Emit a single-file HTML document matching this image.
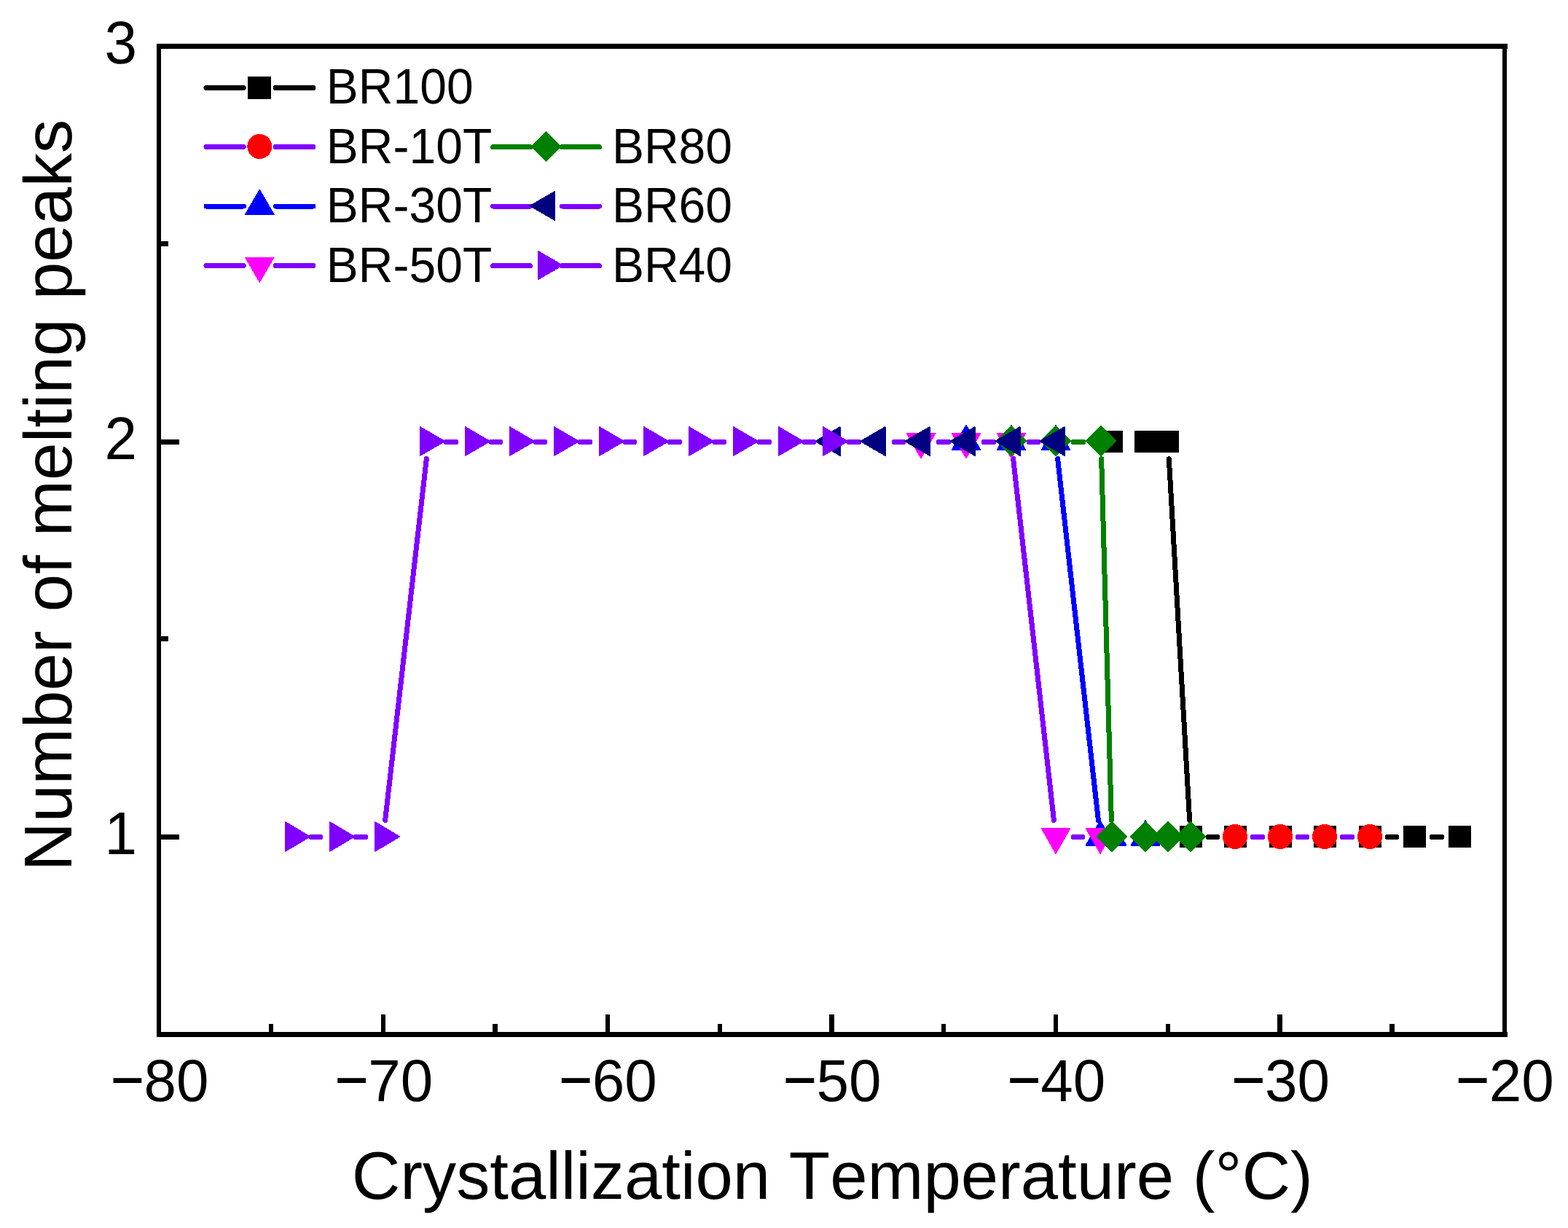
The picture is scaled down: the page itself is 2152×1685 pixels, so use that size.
<!DOCTYPE html>
<html lang="en"><head><meta charset="utf-8"><title>Number of melting peaks</title>
<style>
html,body{margin:0;padding:0;background:#fff;}
body{width:2152px;height:1685px;overflow:hidden;}
svg{display:block;}
text{font-family:"Liberation Sans",sans-serif;fill:#000;font-kerning:none;font-variant-ligatures:none;text-rendering:geometricPrecision;white-space:pre;}
.tick{font-size:80px;}
.mn{font-size:77.5px;stroke:#000;stroke-width:1.1px;}
.title{font-size:93px;}
.leg{font-size:66px;}
.ln{fill:none;stroke-width:7;stroke-linecap:round;}
</style></head><body>
<svg width="2152" height="1685" viewBox="0 0 2152 1685">
<rect x="0" y="0" width="2152" height="1685" fill="#fff"/>
<g shape-rendering="crispEdges">
<g>
<path class="ln" stroke="#000000" d="M1604.32 629.66L1632.68 1125.34M1658.3 1148.5L1670.7 1148.5M1719.3 1148.5L1732.7 1148.5M1781.3 1148.5L1793.7 1148.5M1842.3 1148.5L1855.7 1148.5M1904.3 1148.5L1916.7 1148.5M1965.3 1148.5L1978.7 1148.5"/>
<rect x="1510" y="591" width="31" height="30" fill="#000000"/>
<rect x="1557" y="591" width="31" height="30" fill="#000000"/>
<rect x="1587" y="591" width="31" height="30" fill="#000000"/>
<rect x="1619" y="1133" width="31" height="30" fill="#000000"/>
<rect x="1680" y="1133" width="31" height="30" fill="#000000"/>
<rect x="1742" y="1133" width="31" height="30" fill="#000000"/>
<rect x="1803" y="1133" width="31" height="30" fill="#000000"/>
<rect x="1865" y="1133" width="31" height="30" fill="#000000"/>
<rect x="1926" y="1133" width="31" height="30" fill="#000000"/>
<rect x="1988" y="1133" width="31" height="30" fill="#000000"/>
</g>
<g>
<path class="ln" stroke="#8000ff" d="M1719.3 1148.5L1732.7 1148.5M1781.3 1148.5L1793.7 1148.5M1842.3 1148.5L1855.7 1148.5"/>
<circle cx="1695" cy="1148" r="17" fill="#ff0000"/>
<circle cx="1757" cy="1148" r="17" fill="#ff0000"/>
<circle cx="1818" cy="1148" r="17" fill="#ff0000"/>
<circle cx="1880" cy="1148" r="17" fill="#ff0000"/>
</g>
<g>
<path class="ln" stroke="#0000ff" d="M1350.3 606.5L1363.7 606.5M1412.3 606.5L1424.7 606.5M1451.59 629.55L1507.41 1125.45"/>
<polygon points="1326,583 1346,617.5 1306,617.5" fill="#0000ff" stroke="#0000ff" stroke-width="1" stroke-linejoin="round"/>
<polygon points="1388,583 1408,617.5 1368,617.5" fill="#0000ff" stroke="#0000ff" stroke-width="1" stroke-linejoin="round"/>
<polygon points="1449,583 1469,617.5 1429,617.5" fill="#0000ff" stroke="#0000ff" stroke-width="1" stroke-linejoin="round"/>
<polygon points="1510,1125.5 1530,1160 1490,1160" fill="#0000ff" stroke="#0000ff" stroke-width="1" stroke-linejoin="round"/>
<polygon points="1526,1125.5 1546,1160 1506,1160" fill="#0000ff" stroke="#0000ff" stroke-width="1" stroke-linejoin="round"/>
<polygon points="1572,1125.5 1592,1160 1552,1160" fill="#0000ff" stroke="#0000ff" stroke-width="1" stroke-linejoin="round"/>
</g>
<g>
<path class="ln" stroke="#8000ff" d="M1288.3 606.5L1301.7 606.5M1350.3 606.5L1363.7 606.5M1390.59 629.55L1446.41 1125.45M1473.3 1148.5L1485.7 1148.5"/>
<polygon points="1264,629 1284,594.5 1244,594.5" fill="#ff00ff" stroke="#ff00ff" stroke-width="1" stroke-linejoin="round"/>
<polygon points="1326,629 1346,594.5 1306,594.5" fill="#ff00ff" stroke="#ff00ff" stroke-width="1" stroke-linejoin="round"/>
<polygon points="1388,629 1408,594.5 1368,594.5" fill="#ff00ff" stroke="#ff00ff" stroke-width="1" stroke-linejoin="round"/>
<polygon points="1449,1171.5 1469,1136.5 1429,1136.5" fill="#ff00ff" stroke="#ff00ff" stroke-width="1" stroke-linejoin="round"/>
<polygon points="1510,1171.5 1530,1136.5 1490,1136.5" fill="#ff00ff" stroke="#ff00ff" stroke-width="1" stroke-linejoin="round"/>
</g>
<g>
<path class="ln" stroke="#008000" d="M1412.3 606.5L1424.7 606.5M1473.3 606.5L1486.7 606.5M1511.64 629.69L1525.36 1125.31"/>
<polygon points="1388,584.5 1408.5,605 1388,625.5 1367.5,605" fill="#008000" stroke="#008000" stroke-width="1" stroke-linejoin="round"/>
<polygon points="1449,584.5 1469.5,605 1449,625.5 1428.5,605" fill="#008000" stroke="#008000" stroke-width="1" stroke-linejoin="round"/>
<polygon points="1511,584.5 1531.5,605 1511,625.5 1490.5,605" fill="#008000" stroke="#008000" stroke-width="1" stroke-linejoin="round"/>
<polygon points="1526,1127.5 1546.5,1148 1526,1168.5 1505.5,1148" fill="#008000" stroke="#008000" stroke-width="1" stroke-linejoin="round"/>
<polygon points="1572,1127.5 1592.5,1148 1572,1168.5 1551.5,1148" fill="#008000" stroke="#008000" stroke-width="1" stroke-linejoin="round"/>
<polygon points="1603,1127.5 1623.5,1148 1603,1168.5 1582.5,1148" fill="#008000" stroke="#008000" stroke-width="1" stroke-linejoin="round"/>
<polygon points="1634,1127.5 1654.5,1148 1634,1168.5 1613.5,1148" fill="#008000" stroke="#008000" stroke-width="1" stroke-linejoin="round"/>
</g>
<g>
<path class="ln" stroke="#8000ff" d="M1165.3 606.5L1178.7 606.5M1227.3 606.5L1239.7 606.5M1288.3 606.5L1301.7 606.5M1350.3 606.5L1363.7 606.5M1412.3 606.5L1424.7 606.5"/>
<polygon points="1118.5,605.5 1153,585.5 1153,625.5" fill="#000080" stroke="#000080" stroke-width="1" stroke-linejoin="round"/>
<polygon points="1180.5,605.5 1215,585.5 1215,625.5" fill="#000080" stroke="#000080" stroke-width="1" stroke-linejoin="round"/>
<polygon points="1241.5,605.5 1276,585.5 1276,625.5" fill="#000080" stroke="#000080" stroke-width="1" stroke-linejoin="round"/>
<polygon points="1303.5,605.5 1338,585.5 1338,625.5" fill="#000080" stroke="#000080" stroke-width="1" stroke-linejoin="round"/>
<polygon points="1365.5,605.5 1400,585.5 1400,625.5" fill="#000080" stroke="#000080" stroke-width="1" stroke-linejoin="round"/>
<polygon points="1426.5,605.5 1461,585.5 1461,625.5" fill="#000080" stroke="#000080" stroke-width="1" stroke-linejoin="round"/>
</g>
<g>
<path class="ln" stroke="#8000ff" d="M427.3 1148.5L439.7 1148.5M488.3 1148.5L501.7 1148.5M528.64 1125.45L585.36 629.55M612.3 606.5L625.7 606.5M674.3 606.5L686.7 606.5M735.3 606.5L747.7 606.5M796.3 606.5L809.7 606.5M858.3 606.5L870.7 606.5M919.3 606.5L932.7 606.5M981.3 606.5L993.7 606.5M1042.3 606.5L1055.7 606.5M1104.3 606.5L1116.7 606.5"/>
<polygon points="426,1148 391.5,1127.5 391.5,1168.5" fill="#8000ff" stroke="#8000ff" stroke-width="1" stroke-linejoin="round"/>
<polygon points="487,1148 452.5,1127.5 452.5,1168.5" fill="#8000ff" stroke="#8000ff" stroke-width="1" stroke-linejoin="round"/>
<polygon points="549,1148 514.5,1127.5 514.5,1168.5" fill="#8000ff" stroke="#8000ff" stroke-width="1" stroke-linejoin="round"/>
<polygon points="611,605.5 576.5,585.5 576.5,625.5" fill="#8000ff" stroke="#8000ff" stroke-width="1" stroke-linejoin="round"/>
<polygon points="673,605.5 638.5,585.5 638.5,625.5" fill="#8000ff" stroke="#8000ff" stroke-width="1" stroke-linejoin="round"/>
<polygon points="734,605.5 699.5,585.5 699.5,625.5" fill="#8000ff" stroke="#8000ff" stroke-width="1" stroke-linejoin="round"/>
<polygon points="795,605.5 760.5,585.5 760.5,625.5" fill="#8000ff" stroke="#8000ff" stroke-width="1" stroke-linejoin="round"/>
<polygon points="857,605.5 822.5,585.5 822.5,625.5" fill="#8000ff" stroke="#8000ff" stroke-width="1" stroke-linejoin="round"/>
<polygon points="918,605.5 883.5,585.5 883.5,625.5" fill="#8000ff" stroke="#8000ff" stroke-width="1" stroke-linejoin="round"/>
<polygon points="980,605.5 945.5,585.5 945.5,625.5" fill="#8000ff" stroke="#8000ff" stroke-width="1" stroke-linejoin="round"/>
<polygon points="1041,605.5 1006.5,585.5 1006.5,625.5" fill="#8000ff" stroke="#8000ff" stroke-width="1" stroke-linejoin="round"/>
<polygon points="1103,605.5 1068.5,585.5 1068.5,625.5" fill="#8000ff" stroke="#8000ff" stroke-width="1" stroke-linejoin="round"/>
<polygon points="1164,605.5 1129.5,585.5 1129.5,625.5" fill="#8000ff" stroke="#8000ff" stroke-width="1" stroke-linejoin="round"/>
</g>
</g>
<g fill="#000" shape-rendering="crispEdges">
<rect x="215" y="60" width="1854" height="7"/>
<rect x="215" y="1416" width="1854" height="7"/>
<rect x="215" y="60" width="6" height="1363"/>
<rect x="2062" y="60" width="6" height="1363"/>
<rect x="523" y="1392" width="6" height="25"/>
<rect x="831" y="1392" width="6" height="25"/>
<rect x="1138" y="1392" width="7" height="25"/>
<rect x="1446" y="1392" width="6" height="25"/>
<rect x="1753" y="1392" width="7" height="25"/>
<rect x="369" y="1405" width="6" height="12"/>
<rect x="676" y="1405" width="7" height="12"/>
<rect x="985" y="1405" width="6" height="12"/>
<rect x="1292" y="1405" width="6" height="12"/>
<rect x="1600" y="1405" width="6" height="12"/>
<rect x="1907" y="1405" width="7" height="12"/>
<rect x="220" y="603" width="26" height="7"/>
<rect x="220" y="1145" width="26" height="7"/>
<rect x="220" y="331" width="11" height="7"/>
<rect x="220" y="873" width="11" height="7"/>
</g>
<g>
<text class="tick" text-anchor="middle" transform="translate(219.3 1511) scale(1 1.02)"><tspan class="mn" dy="-2.1">−</tspan><tspan dy="2.1">80</tspan></text>
<text class="tick" text-anchor="middle" transform="translate(527 1511) scale(1 1.02)"><tspan class="mn" dy="-2.1">−</tspan><tspan dy="2.1">70</tspan></text>
<text class="tick" text-anchor="middle" transform="translate(834.7 1511) scale(1 1.02)"><tspan class="mn" dy="-2.1">−</tspan><tspan dy="2.1">60</tspan></text>
<text class="tick" text-anchor="middle" transform="translate(1142.4 1511) scale(1 1.02)"><tspan class="mn" dy="-2.1">−</tspan><tspan dy="2.1">50</tspan></text>
<text class="tick" text-anchor="middle" transform="translate(1450.1 1511) scale(1 1.02)"><tspan class="mn" dy="-2.1">−</tspan><tspan dy="2.1">40</tspan></text>
<text class="tick" text-anchor="middle" transform="translate(1757.8 1511) scale(1 1.02)"><tspan class="mn" dy="-2.1">−</tspan><tspan dy="2.1">30</tspan></text>
<text class="tick" text-anchor="middle" transform="translate(2065.5 1511) scale(1 1.02)"><tspan class="mn" dy="-2.1">−</tspan><tspan dy="2.1">20</tspan></text>
</g>
<g>
<text class="tick" text-anchor="end" transform="translate(188 87) scale(1 1.034)">3</text>
<text class="tick" text-anchor="end" transform="translate(188 630) scale(1 1.034)">2</text>
<text class="tick" text-anchor="end" transform="translate(188 1172) scale(1 1.034)">1</text>
</g>
<text class="title" text-anchor="middle" style="font-size:92.3px" transform="translate(1142.25 1645)">Crystallization Temperature (°C)</text>
<text class="title" text-anchor="middle" style="font-size:92.8px" transform="translate(98 679.5) rotate(-90)">Number of melting peaks</text>
<g>
<g shape-rendering="crispEdges">
<path class="ln" stroke="#000000" d="M283 120.5L334.3 120.5M378.3 120.5L430 120.5"/>
<rect x="340" y="105" width="32" height="31" fill="#000000"/>
</g>
<text class="leg" transform="translate(447.8 141.5) scale(1 1.034)">BR100</text>
<g shape-rendering="crispEdges">
<path class="ln" stroke="#8000ff" d="M283 201.5L334.3 201.5M378.3 201.5L430 201.5"/>
<circle cx="356.3" cy="201" r="17" fill="#ff0000"/>
</g>
<text class="leg" transform="translate(447.8 223.8) scale(1 1.034)">BR-10T</text>
<g shape-rendering="crispEdges">
<path class="ln" stroke="#0000ff" d="M283 283L334.3 283M378.3 283L430 283"/>
<polygon points="356.3,260 376.3,294.5 336.3,294.5" fill="#0000ff" stroke="#0000ff" stroke-width="1" stroke-linejoin="round"/>
</g>
<text class="leg" transform="translate(447.8 305.1) scale(1 1.034)">BR-30T</text>
<g shape-rendering="crispEdges">
<path class="ln" stroke="#8000ff" d="M283 364.5L334.3 364.5M378.3 364.5L430 364.5"/>
<polygon points="356.3,387.5 376.3,353 336.3,353" fill="#ff00ff" stroke="#ff00ff" stroke-width="1" stroke-linejoin="round"/>
</g>
<text class="leg" transform="translate(447.8 386.5) scale(1 1.034)">BR-50T</text>
<g shape-rendering="crispEdges">
<path class="ln" stroke="#008000" d="M676.5 201.5L727.5 201.5M771.5 201.5L822.5 201.5"/>
<polygon points="749.5,180.5 770,201 749.5,221.5 729,201" fill="#008000" stroke="#008000" stroke-width="1" stroke-linejoin="round"/>
</g>
<text class="leg" transform="translate(839.9 223.8) scale(1 1.034)">BR80</text>
<g shape-rendering="crispEdges">
<path class="ln" stroke="#8000ff" d="M676.5 283L727.5 283M771.5 283L822.5 283"/>
<polygon points="727,282.5 761.5,262.5 761.5,302.5" fill="#000080" stroke="#000080" stroke-width="1" stroke-linejoin="round"/>
</g>
<text class="leg" transform="translate(839.9 305.1) scale(1 1.034)">BR60</text>
<g shape-rendering="crispEdges">
<path class="ln" stroke="#8000ff" d="M676.5 364.5L727.5 364.5M771.5 364.5L822.5 364.5"/>
<polygon points="772.5,364 738,344 738,384" fill="#8000ff" stroke="#8000ff" stroke-width="1" stroke-linejoin="round"/>
</g>
<text class="leg" transform="translate(839.9 386.5) scale(1 1.034)">BR40</text>
</g>
</svg>
</body></html>
